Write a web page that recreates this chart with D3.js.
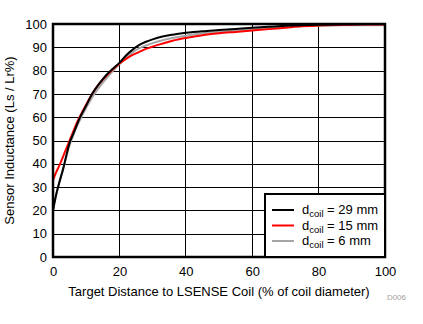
<!DOCTYPE html>
<html><head><meta charset="utf-8">
<script src="https://cdn.jsdelivr.net/npm/d3@7"></script>
<style>
body{margin:0;background:#fff;}
text{font-family:"Liberation Sans",Arial,sans-serif;}
</style></head>
<body><svg id="c" width="423" height="324"></svg>
<script>
const xs = [0,1,2,3,4,5,6,7,8,10,12,14,16,18,20,22,24,26,28,30,33,36,40,45,50,55,60,65,70,75,80,85,90,95,100];
const coil29 = [20,27,32.5,37.5,43.5,49,52.5,56,59.5,65,70.5,74.5,78,80.8,83.3,86.5,89,91,92.4,93.4,94.6,95.4,96.2,96.9,97.4,97.9,98.4,98.8,99.2,99.5,99.7,99.8,99.9,100,100];
const coil15 = [33,36.5,39.5,43,46.5,50,53.5,57,60,65.5,70.5,74.5,77.7,80.5,83,85,86.7,88,89.3,90.3,91.6,92.8,94,95.2,96,96.6,97.2,97.8,98.4,99,99.4,99.6,99.7,99.8,99.8];
const coil6 = [20,27,32.5,37.5,43,48,51.8,55.5,58.5,64,69,73,76.5,79.8,82.8,85.5,87.8,89.6,90.8,91.8,93,94,95,96,96.6,97.1,97.7,98.2,98.8,99.1,99.3,99.4,99.5,99.5,99.5];
const seriesNames = ["29 mm","15 mm","6 mm"];
const seriesColors = ["#000000","#ff0000","#a6a6a6"];
const xTicks = [0,20,40,60,80,100];
const yTicks = [0,10,20,30,40,50,60,70,80,90,100];

const svg = d3.select("#c");
const L=53, R=385, T=24, B=257;
const FS=13;
const x = d3.scaleLinear().domain([0,100]).range([L,R]);
const y = d3.scaleLinear().domain([0,100]).range([B,T]);

// grid
svg.append("g").selectAll("line").data(xTicks.slice(1,-1)).join("line")
  .attr("x1",d=>x(d)).attr("x2",d=>x(d)).attr("y1",T).attr("y2",B)
  .attr("stroke","#000").attr("stroke-width",1).attr("shape-rendering","crispEdges");
svg.append("g").selectAll("line").data(yTicks.slice(1,-1)).join("line")
  .attr("y1",d=>Math.round(y(d))+0.5).attr("y2",d=>Math.round(y(d))+0.5).attr("x1",L).attr("x2",R)
  .attr("stroke","#000").attr("stroke-width",1);

// lines (gray first, then red, then black)
const line = d3.line().x((d,i)=>x(xs[i])).y(d=>y(d)).curve(d3.curveMonotoneX);
const data = [coil29, coil15, coil6];
[2,1,0].forEach(k=>{
  svg.append("path").attr("d",line(data[k])).attr("fill","none")
    .attr("stroke",seriesColors[k]).attr("stroke-width",2);
});

// frame
svg.append("rect").attr("x",L).attr("y",T).attr("width",R-L).attr("height",B-T)
  .attr("fill","none").attr("stroke","#000").attr("stroke-width",2.5);

// axes labels
const xa = svg.append("g").attr("transform",`translate(0,${B})`).call(d3.axisBottom(x).tickValues(xTicks).tickSize(0).tickPadding(10));
xa.select(".domain").remove();
xa.selectAll("text").attr("font-size",FS).attr("fill","#000").attr("font-family","Liberation Sans, Arial, sans-serif");
const ya = svg.append("g").attr("transform",`translate(${L},0)`).call(d3.axisLeft(y).tickValues(yTicks).tickSize(0).tickPadding(6));
ya.select(".domain").remove();
ya.selectAll("text").attr("font-size",FS).attr("fill","#000").attr("font-family","Liberation Sans, Arial, sans-serif");

svg.append("text").attr("x",(L+R)/2).attr("y",296).attr("text-anchor","middle")
  .attr("font-size",FS).text("Target Distance to LSENSE Coil (% of coil diameter)");
svg.append("text").attr("transform",`translate(14,${(T+B)/2}) rotate(-90)`).attr("text-anchor","middle")
  .attr("font-size",FS).text("Sensor Inductance (Ls / Lr%)");
svg.append("text").attr("x",406).attr("y",300).attr("text-anchor","end")
  .attr("font-size",8).attr("fill","#a0a0a0").text("D006");

// legend
const lg = svg.append("g");
lg.append("rect").attr("x",265).attr("y",194).attr("width",R-265).attr("height",B-194)
  .attr("fill","#fff").attr("stroke","#000").attr("stroke-width",2);
const rowsY=[210,225.5,241];
seriesNames.forEach((n,i)=>{
  lg.append("line").attr("x1",272).attr("x2",294).attr("y1",rowsY[i]).attr("y2",rowsY[i])
    .attr("stroke",seriesColors[i]).attr("stroke-width",2);
  const t = lg.append("text").attr("x",302).attr("y",rowsY[i]+4).attr("font-size",FS);
  t.append("tspan").text("d");
  t.append("tspan").attr("font-size",9.5).attr("dy",3).text("coil");
  t.append("tspan").attr("dy",-3).text(" = "+n);
});
</script></body></html>
